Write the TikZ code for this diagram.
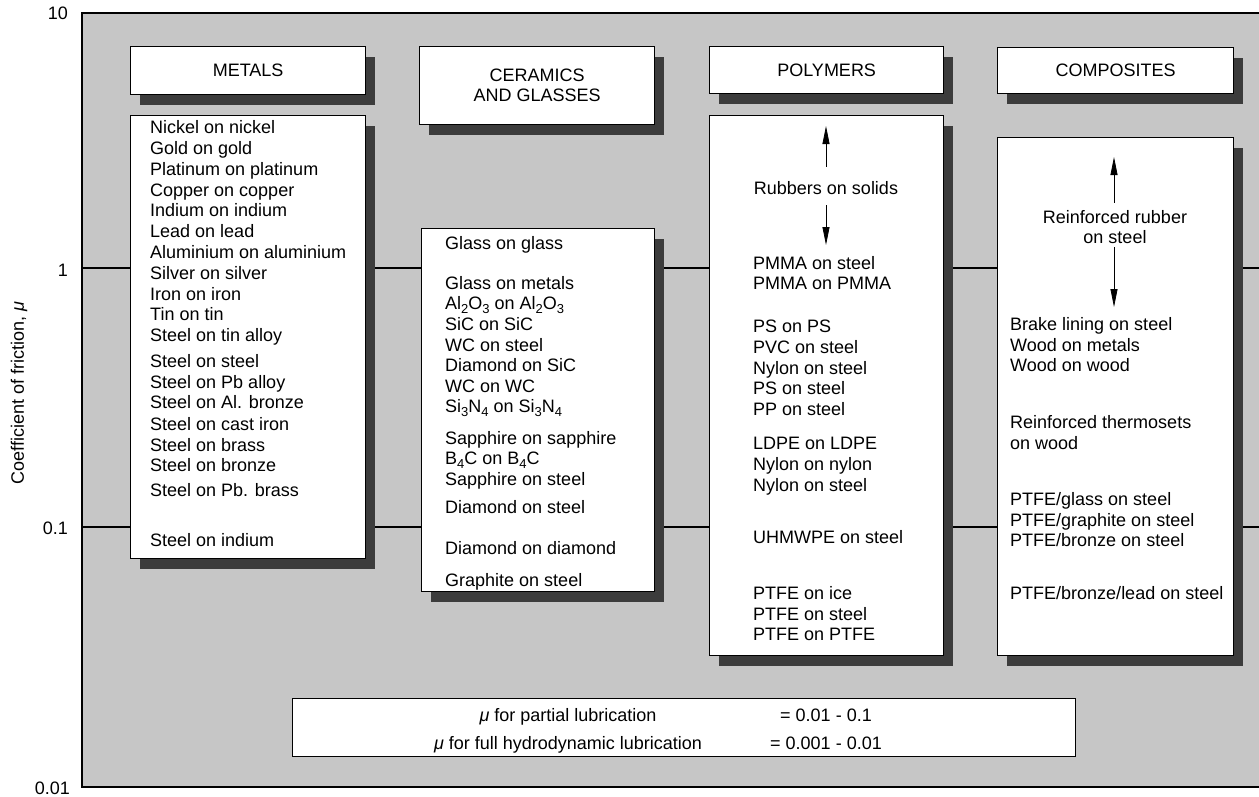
\documentclass[tikz,border=0pt]{standalone}
\usepackage{fontspec}
\setmainfont{Liberation Sans}
\usetikzlibrary{arrows.meta,shadows}
\definecolor{panel}{RGB}{198,198,198}
\definecolor{shadowc}{RGB}{60,60,60}
\newcommand{\sbs}[1]{\raisebox{-4pt}{\fontsize{13}{13}\selectfont #1}}
\begin{document}
\begin{tikzpicture}[x=1pt,y=-1pt,
  every node/.style={inner sep=0pt, font=\fontsize{18}{20}\selectfont},
  card/.style={draw=black, line width=1.3pt, fill=white, anchor=north west,
    drop shadow={shadow xshift=9pt, shadow yshift=-10pt, fill=shadowc, opacity=1}},
  plainbox/.style={draw=black, line width=1.3pt, fill=white, anchor=north west},
  item/.style={anchor=base west},
  tick/.style={anchor=base east},
  arr/.style={-{Triangle[length=18pt,width=7pt]}, line width=0.8pt},
  gridline/.style={line width=1.5pt}]
\useasboundingbox (0,0) rectangle (1259,796);
% panel
\fill[panel] (82,13) rectangle (1259,787);
\draw[line width=2pt] (1259,13) -- (82,13) -- (82,787) -- (1259,787);
\draw[gridline] (82,268) -- (1259,268);
\draw[gridline] (82,527) -- (1259,527);
% axis labels
\node[tick] (t10) at (68,19) {10};
\node[tick] (t1) at (68,276) {1};
\node[tick] (t01) at (68,534) {0.1};
\node[tick] (t001) at (70,794) {0.01};
\node[rotate=90] (ylab) at (19,393) {Coefficient of friction, \textit{μ}};
% headers
\node[card, minimum width=235pt, minimum height=48pt] (hmet) at (130,46) {};
\node (hmett) at (hmet.center) {METALS};
\node[card, minimum width=235pt, minimum height=78pt] (hcer) at (419,46) {};
\node[align=center] (hcert) at (hcer.center) {CERAMICS\\AND GLASSES};
\node[card, minimum width=234pt, minimum height=47pt] (hpol) at (709,46) {};
\node (hpolt) at (hpol.center) {POLYMERS};
\node[card, minimum width=236pt, minimum height=46pt] (hcom) at (997,47) {};
\node (hcomt) at (hcom.center) {COMPOSITES};
% list boxes
\node[card, minimum width=235pt, minimum height=443pt] (lmet) at (130,115) {};
\node[card, minimum width=233pt, minimum height=363pt] (lcer) at (421,228) {};
\node[card, minimum width=234pt, minimum height=540pt] (lpol) at (709,115) {};
\node[card, minimum width=236pt, minimum height=518pt] (lcom) at (997,137) {};
% metals
\foreach \yy/\txt [count=\i] in {133/Nickel on nickel, 154/Gold on gold, 175/Platinum on platinum,
  196/Copper on copper, 216/Indium on indium, 237/Lead on lead, 258/Aluminium on aluminium,
  279/Silver on silver, 300/Iron on iron, 320/Tin on tin, 341/Steel on tin alloy,
  367/Steel on steel, 388/Steel on Pb alloy, 408/Steel on Al. bronze, 430/Steel on cast iron,
  451/Steel on brass, 471/Steel on bronze, 496/Steel on Pb. brass, 546/Steel on indium}
  \node[item] (m\i) at (150,\yy) {\txt};
% ceramics
\foreach \yy/\txt [count=\i] in {249/Glass on glass, 289/Glass on metals,
  309/{Al\sbs{2}O\sbs{3} on Al\sbs{2}O\sbs{3}},
  330/SiC on SiC, 351/WC on steel, 371/Diamond on SiC, 392/WC on WC,
  412/{Si\sbs{3}N\sbs{4} on Si\sbs{3}N\sbs{4}},
  444/Sapphire on sapphire, 464/{B\sbs{4}C on B\sbs{4}C},
  485/Sapphire on steel, 513/Diamond on steel, 554/Diamond on diamond, 586/Graphite on steel}
  \node[item] (c\i) at (445,\yy) {\txt};
% polymers
\node[anchor=base] (rub) at (826,194) {Rubbers on solids};
\coordinate (rubup) at (826,126);
\coordinate (rubdn) at (826,245);
\draw[arr, shorten <=14pt] (rub.north) -- (rubup);
\draw[arr, shorten <=11pt] (rub.south) -- (rubdn);
\foreach \yy/\txt [count=\i] in {269/PMMA on steel, 289/PMMA on PMMA, 332/PS on PS,
  353/PVC on steel, 374/Nylon on steel, 394/PS on steel, 415/PP on steel,
  449/LDPE on LDPE, 470/Nylon on nylon, 491/Nylon on steel, 543/UHMWPE on steel,
  599/PTFE on ice, 620/PTFE on steel, 640/PTFE on PTFE}
  \node[item] (p\i) at (753,\yy) {\txt};
% composites
\node[anchor=base] (rr1) at (1115,223) {Reinforced rubber};
\node[anchor=base] (rr2) at (1115,243) {on steel};
\coordinate (rrup) at (1114,157);
\coordinate (rrdn) at (1114,307);
\draw[arr, shorten <=7pt] (rr1.north -| rrup) -- (rrup);
\draw[arr, shorten <=4pt] (rr2.south -| rrdn) -- (rrdn);
\foreach \yy/\txt [count=\i] in {330/Brake lining on steel, 351/Wood on metals, 371/Wood on wood,
  428/Reinforced thermosets, 449/on wood, 505/{PTFE/glass on steel},
  526/{PTFE/graphite on steel}, 546/{PTFE/bronze on steel}, 599/{PTFE/bronze/lead on steel}}
  \node[item] (k\i) at (1010,\yy) {\txt};
% lubrication box
\node[plainbox, minimum width=783pt, minimum height=58pt] (lub) at (292,698) {};
\node[anchor=base] (lub1) at (568,721) {\textit{μ} for partial lubrication};
\node[anchor=base] (lub2) at (568,749) {\textit{μ} for full hydrodynamic lubrication};
\node[anchor=base] (lub3) at (826,721) {= 0.01 - 0.1};
\node[anchor=base] (lub4) at (826,749) {= 0.001 - 0.01};
\end{tikzpicture}
\end{document}
